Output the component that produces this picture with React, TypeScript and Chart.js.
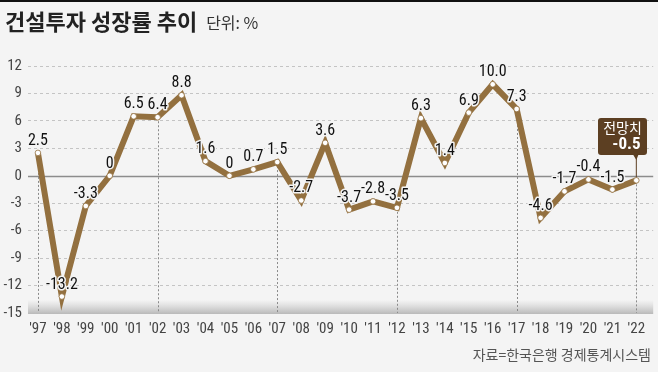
import React, { useEffect, useRef } from "react";
import { Chart, registerables } from "chart.js";

Chart.register(...registerables);

const years = [1997, 1998, 1999, 2000, 2001, 2002, 2003, 2004, 2005, 2006, 2007, 2008, 2009, 2010, 2011, 2012, 2013, 2014, 2015, 2016, 2017, 2018, 2019, 2020, 2021, 2022];
const growth = [2.5, -13.2, -3.3, 0, 6.5, 6.4, 8.8, 1.6, 0, 0.7, 1.5, -2.7, 3.6, -3.7, -2.8, -3.5, 6.3, 1.4, 6.9, 10.0, 7.3, -4.6, -1.7, -0.4, -1.5, -0.5];
const valueLabels = ["2.5", "-13.2", "-3.3", "0", "6.5", "6.4", "8.8", "1.6", "0", "0.7", "1.5", "-2.7", "3.6", "-3.7", "-2.8", "-3.5", "6.3", "1.4", "6.9", "10.0", "7.3", "-4.6", "-1.7", "-0.4", "-1.5", "-0.5"];
const markedYears = [1997, 2002, 2007, 2012, 2017, 2022];
const titleText = "건설투자 성장률 추이";
const unitText = "단위: %";
const sourceText = "자료=한국은행 경제통계시스템";
const calloutTitle = "전망치";

const BG = "#f4f4f4";
const LINE = "#93703f";
const BOX = "#5c3f22";
const NARROW = '"Liberation Sans Narrow", "Roboto Condensed", Roboto, sans-serif';
const KR = '"Noto Sans CJK KR", "Noto Sans", sans-serif';

const decorPlugin = {
  id: "decor",
  beforeDraw(chart: any) {
    const ctx = chart.ctx;
    const { left, right, bottom } = chart.chartArea;
    ctx.save();
    ctx.fillStyle = BG;
    ctx.fillRect(0, 0, chart.width, chart.height);
    ctx.fillStyle = "#111";
    ctx.fillRect(0, 0, chart.width, 2);
    const g = ctx.createLinearGradient(0, bottom - 13, 0, bottom + 1);
    g.addColorStop(0, "rgba(200,200,200,0)");
    g.addColorStop(1, "rgba(185,185,185,1)");
    ctx.fillStyle = g;
    ctx.fillRect(left, bottom - 13, right - left, 14);
    ctx.textBaseline = "middle";
    ctx.textAlign = "left";
    ctx.fillStyle = "#222";
    ctx.font = `bold 22px ${KR}`;
    ctx.fillText(titleText, 5, 22);
    const w = ctx.measureText(titleText).width;
    ctx.font = `16px ${KR}`;
    ctx.fillStyle = "#333";
    ctx.fillText(unitText, 5 + w + 9, 23);
    ctx.textAlign = "right";
    ctx.font = `14px ${KR}`;
    ctx.fillStyle = "#555";
    ctx.fillText(sourceText, 651, 355);
    ctx.restore();
  },
  beforeDatasetsDraw(chart: any) {
    const ctx = chart.ctx;
    const xs = chart.scales.x;
    const ys = chart.scales.y;
    const { left, right } = chart.chartArea;
    ctx.save();
    const zy = Math.round(ys.getPixelForValue(0)) + 0.5;
    ctx.strokeStyle = "#8c8c8c";
    ctx.lineWidth = 1.3;
    ctx.beginPath();
    ctx.moveTo(left, zy);
    ctx.lineTo(right, zy);
    ctx.stroke();
    ctx.strokeStyle = "#8a8a8a";
    ctx.lineWidth = 1;
    ctx.setLineDash([2, 2]);
    markedYears.forEach((yr) => {
      const i = years.indexOf(yr);
      const x = Math.round(xs.getPixelForValue(yr)) + 0.5;
      ctx.beginPath();
      ctx.moveTo(x, ys.getPixelForValue(growth[i]));
      ctx.lineTo(x, chart.chartArea.bottom);
      ctx.stroke();
    });
    ctx.restore();
  },
  afterDatasetsDraw(chart: any) {
    const ctx = chart.ctx;
    const xs = chart.scales.x;
    const ys = chart.scales.y;
    ctx.save();
    ctx.textAlign = "center";
    ctx.textBaseline = "bottom";
    ctx.font = `16px ${NARROW}`;
    ctx.fillStyle = "#111";
    const last = years.length - 1;
    years.forEach((yr, i) => {
      if (i === last) return;
      const x = xs.getPixelForValue(yr);
      const y = ys.getPixelForValue(growth[i]);
      ctx.lineWidth = 3;
      ctx.strokeStyle = BG;
      ctx.lineJoin = "round";
      ctx.strokeText(valueLabels[i], x, y - 4);
      ctx.fillText(valueLabels[i], x, y - 4);
    });
    const px = xs.getPixelForValue(years[last]);
    const py = ys.getPixelForValue(growth[last]);
    const bx = 598, by = 118, bw = 49, bh = 37;
    ctx.strokeStyle = BOX;
    ctx.lineWidth = 1;
    ctx.beginPath();
    ctx.moveTo(px, by + bh);
    ctx.lineTo(px, py - 3);
    ctx.stroke();
    ctx.fillStyle = BOX;
    ctx.beginPath();
    ctx.moveTo(bx + 3, by);
    ctx.lineTo(bx + bw - 3, by);
    ctx.quadraticCurveTo(bx + bw, by, bx + bw, by + 3);
    ctx.lineTo(bx + bw, by + bh - 3);
    ctx.quadraticCurveTo(bx + bw, by + bh, bx + bw - 3, by + bh);
    ctx.lineTo(px + 2, by + bh);
    ctx.lineTo(px, by + bh + 5);
    ctx.lineTo(px - 3, by + bh);
    ctx.lineTo(bx + 3, by + bh);
    ctx.quadraticCurveTo(bx, by + bh, bx, by + bh - 3);
    ctx.lineTo(bx, by + 3);
    ctx.quadraticCurveTo(bx, by, bx + 3, by);
    ctx.closePath();
    ctx.fill();
    ctx.fillStyle = "#fff";
    ctx.textAlign = "center";
    ctx.textBaseline = "middle";
    ctx.font = `14px ${KR}`;
    ctx.fillText(calloutTitle, bx + bw / 2, by + 10);
    ctx.font = `bold 17px ${NARROW}`;
    ctx.fillText(valueLabels[last], bx + bw / 2 + 4, by + 27);
    ctx.restore();
  },
};

export default function App() {
  const ref = useRef<HTMLCanvasElement | null>(null);
  useEffect(() => {
    if (!ref.current) return;
    const chart = new Chart(ref.current, {
      type: "line",
      data: {
        datasets: [
          {
            data: years.map((y, i) => ({ x: y, y: growth[i] })),
            borderColor: LINE,
            borderWidth: 6,
            borderJoinStyle: "miter",
            pointRadius: 2.8,
            pointBackgroundColor: "#fff",
            pointBorderColor: LINE,
            pointBorderWidth: 0.8,
            tension: 0,
          },
        ],
      },
      options: {
        animation: false,
        responsive: false,
        events: [],
        layout: { padding: { top: 66, right: 0, left: 0, bottom: 0 } },
        plugins: { legend: { display: false }, tooltip: { enabled: false }, title: { display: false } },
        scales: {
          x: {
            type: "linear",
            min: 1996.585,
            max: 2022.705,
            afterFit: (s: any) => { s.height = 59; },
            afterBuildTicks: (s: any) => { s.ticks = years.map((v) => ({ value: v })); },
            border: { display: false },
            grid: { display: false, drawTicks: false },
            ticks: {
              padding: 7,
              color: "#444",
              font: { family: NARROW, size: 15 },
              autoSkip: false,
              maxRotation: 0,
              callback: (v: any) => "'" + String(v).slice(2),
            },
          },
          y: {
            min: -15,
            max: 12,
            afterFit: (s: any) => { s.width = 28; },
            afterBuildTicks: (s: any) => {
              const t = [];
              for (let v = -15; v <= 12; v += 3) t.push({ value: v });
              s.ticks = t;
            },
            border: { display: false, dash: [3, 3] },
            grid: {
              drawTicks: false,
              color: (c: any) => (c.tick && (c.tick.value === 0 || c.tick.value === -15) ? "rgba(0,0,0,0)" : "#c4c4c4"),
              lineWidth: 1,
            },
            ticks: {
              padding: 6,
              color: "#444",
              font: { family: NARROW, size: 15 },
            },
          },
        },
      } as any,
      plugins: [decorPlugin],
    });
    return () => chart.destroy();
  }, []);
  return (
    <div style={{ position: "fixed", left: 0, top: 0, width: 658, height: 372, background: BG }}>
      <canvas ref={ref} width={658} height={372} style={{ display: "block", width: 658, height: 372 }} />
    </div>
  );
}
